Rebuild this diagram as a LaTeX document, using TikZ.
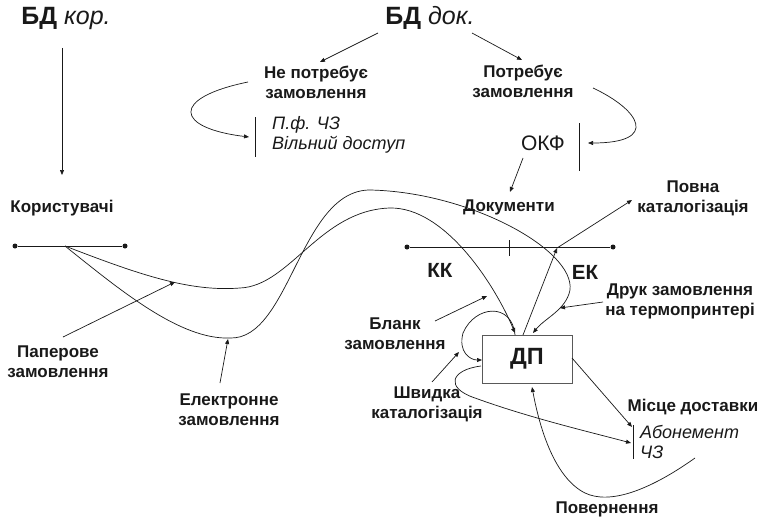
\documentclass[tikz,border=0pt]{standalone}
\usepackage{fontspec}
\setmainfont{Liberation Sans}
\usetikzlibrary{arrows.meta}
\definecolor{ink}{gray}{0.1}
\begin{document}
\begin{tikzpicture}[x=1pt,y=-1pt,
  every node/.style={text=ink},
  lbl/.style={font=\fontsize{17}{20}\selectfont\bfseries, align=center, inner sep=0pt},
  itl/.style={font=\fontsize{18}{20}\selectfont\itshape, align=left, inner sep=0pt},
  big/.style={font=\fontsize{25}{28}\selectfont, inner sep=0pt},
  okfstyle/.style={font=\fontsize{21}{24}\selectfont, inner sep=0pt},
  mid/.style={font=\fontsize{20.5}{24}\selectfont\bfseries, inner sep=0pt},
  boxst/.style={draw=black!65, line width=0.8pt, fill=white, minimum width=90pt, minimum height=48pt, font=\fontsize{23.5}{26}\selectfont\bfseries},
  arr/.style={draw=ink, line width=0.7pt, -{Triangle[length=5pt,width=4pt]}},
  ln/.style={draw=ink, line width=0.7pt},
  dot/.style={circle, fill=ink, inner sep=0pt, minimum size=5pt}
]
\useasboundingbox (0,0) rectangle (762,519);

% ---- text nodes
\node[big] (bdkor) at (66,18) {\textbf{БД} \textit{кор.}};
\node[big] (bddok) at (430,18) {\textbf{БД} \textit{док.}};
\node[lbl] (users) at (62,208) {Користувачі};
\node[lbl] (nepotr) at (316,82) {Не потребує\\замовлення};
\node[lbl] (potr) at (523,81) {Потребує\\замовлення};
\node[itl, anchor=west] (pf) at (272,135) {П.ф. ЧЗ\\Вільний доступ};
\node[okfstyle] (okf) at (543,143) {ОКФ};
\node[lbl] (docs) at (509,207) {Документи};
\node[lbl] (povna) at (693,198) {Повна\\каталогізація};
\node[mid] (kk) at (440,270) {КК};
\node[mid] (ek) at (585,272) {ЕК};
\node[lbl] (druk) at (680,301) {Друк замовлення\\на термопринтері};
\node[lbl] (blank) at (395,334) {Бланк\\замовлення};
\node[lbl] (shv) at (427,404) {Швидка\\каталогізація};
\node[boxst] (dp) at (527,359) {ДП};
\node[lbl] (misce) at (693,407) {Місце доставки};
\node[itl, anchor=west] (abon) at (640,442) {Абонемент\\ЧЗ};
\node[lbl] (povern) at (607,509) {Повернення};
\node[lbl] (paper) at (58,362) {Паперове\\замовлення};
\node[lbl] (elec) at (229,410) {Електронне\\замовлення};

% ---- lines with dots
\node[dot] (la) at (15,246) {};
\node[dot] (lb) at (125,246) {};
\draw[ln] (la) -- (lb);
\coordinate (u0) at (65,246);
\node[dot] (ra) at (407,247) {};
\node[dot] (rb) at (613,247) {};
\draw[ln] (ra) -- (rb);
\coordinate (t1) at (509,240);
\coordinate (t2) at (509,256);
\draw[ln] (t1) -- (t2);

% ---- bars
\coordinate (b1a) at (255,117); \coordinate (b1b) at (255,157);
\draw[ln] (b1a) -- (b1b);
\coordinate (b2a) at (579,123); \coordinate (b2b) at (579,171);
\draw[ln] (b2a) -- (b2b);
\coordinate (b3a) at (633,425); \coordinate (b3b) at (633,459);
\draw[ln] (b3a) -- (b3b);

% ---- top arrows
\coordinate (k1) at (62,48); \coordinate (k2) at (62,175);
\draw[arr] (k1) -- (k2);
\coordinate (d1) at (378,33); \coordinate (d2) at (320,62);
\draw[arr] (d1) -- (d2);
\coordinate (d3) at (472,33); \coordinate (d4) at (522,60);
\draw[arr] (d3) -- (d4);
\coordinate (n1) at (248,82); \coordinate (n2) at (249,137);
\draw[arr] (n1) .. controls (170,98) and (175,128) .. (n2);
\coordinate (p1) at (593,88); \coordinate (p2) at (588,143);
\draw[arr] (p1) .. controls (640,110) and (660,143) .. (p2);
\coordinate (o1) at (523,158); \coordinate (o2) at (510,192);
\draw[arr] (o1) -- (o2);

% ---- order curves
\coordinate (m1) at (240,288);
\coordinate (m2) at (390,208);
\coordinate (kkend) at (515,333);
\draw[arr] (u0) .. controls (140,275) and (190,292) .. (m1)
  .. controls (290,286) and (320,210) .. (m2)
  .. controls (445,207) and (495,285) .. (kkend);

\coordinate (e1) at (230,338);
\coordinate (e2) at (370,190);
\coordinate (e3) at (570,290);
\coordinate (ekend) at (533,333);
\draw[arr] (u0) .. controls (120,290) and (180,340) .. (e1)
  .. controls (290,340) and (300,190) .. (e2)
  .. controls (470,192) and (575,250) .. (e3)
  .. controls (566,310) and (545,318) .. (ekend);

% ---- pointers to curves
\coordinate (pp1) at (63,337); \coordinate (pp2) at (175,282);
\draw[arr] (pp1) -- (pp2);
\coordinate (ep1) at (220,383); \coordinate (ep2) at (228,339);
\draw[arr] (ep1) -- (ep2);
\coordinate (bl1) at (435,321); \coordinate (bl2) at (487,296);
\draw[arr] (bl1) -- (bl2);
\coordinate (dr1) at (603,302); \coordinate (dr2) at (560,308);
\draw[arr] (dr1) -- (dr2);
\coordinate (sh1) at (432,382); \coordinate (sh2) at (459,352);
\draw[arr] (sh1) -- (sh2);

% ---- DP connections
\coordinate (up1) at (523,335); \coordinate (up2) at (557,248);
\draw[arr] (up1) -- (up2);
\coordinate (pv) at (632,200);
\draw[arr] (up2) -- (pv);
\coordinate (lp1) at (515,335); \coordinate (lp2) at (482,360);
\draw[arr] (lp1) .. controls (512,302) and (475,305) .. (463,333)
  .. controls (458,352) and (470,360) .. (lp2);
\coordinate (dr) at (572,358); \coordinate (ab1) at (632,427);
\draw[arr] (dr) -- (ab1);
\coordinate (dl) at (481,366); \coordinate (ab2) at (631,443);
\draw[arr] (dl) .. controls (450,370) and (445,388) .. (475,398)
  .. controls (530,418) and (590,432) .. (ab2);
\coordinate (rt1) at (695,458); \coordinate (rt2) at (532,387);
\draw[arr] (rt1) .. controls (650,490) and (610,505) .. (585,493)
  .. controls (555,478) and (540,430) .. (rt2);
\end{tikzpicture}
\end{document}
